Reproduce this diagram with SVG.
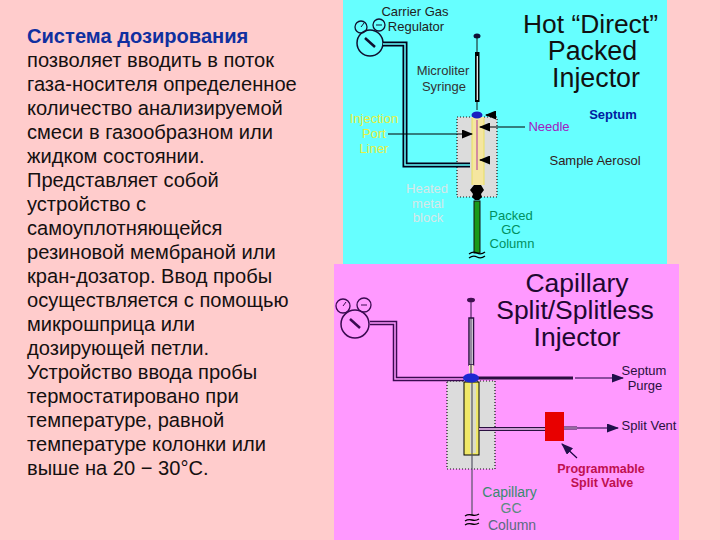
<svg xmlns="http://www.w3.org/2000/svg" width="720" height="540" viewBox="0 0 720 540">
<style>
text{font-family:"Liberation Sans",Arial,sans-serif}
.body{font-size:20.1px;fill:#151010}
.title{font-size:26.800px;fill:#111;text-anchor:middle}
.title2{font-size:26.500px;fill:#200830;text-anchor:middle}
.lab{font-size:13px;text-anchor:middle}
.thin{fill:none;stroke:#000;stroke-width:1.2}
.ln{fill:none;stroke:#180040;stroke-width:1.2}
.dot{fill:#dcdcdc;stroke:#111;stroke-width:1.2;stroke-dasharray:1 2}
</style>
<defs>
<marker id="a" markerWidth="11" markerHeight="9" refX="10" refY="4.500" orient="auto" markerUnits="userSpaceOnUse"><path d="M0 0L11 4.500L0 9Z" fill="#000"/></marker>
<marker id="p" markerWidth="12" markerHeight="9" refX="11" refY="4.500" orient="auto" markerUnits="userSpaceOnUse"><path d="M0 0L12 4.500L0 9Z" fill="#20104a"/></marker>
</defs>
<rect width="720" height="540" fill="#ffcccc"/>
<rect x="343" y="0" width="324" height="264" fill="#66ffff"/>
<rect x="334" y="264" width="345" height="276" fill="#ff99ff"/>

<g id="description">
<text class="body" x="27" y="43" font-weight="bold" style="fill:#1030a0">Система дозирования</text>
<text class="body" x="27" y="67">позволяет вводить в поток</text>
<text class="body" x="27" y="91">газа-носителя определенное</text>
<text class="body" x="27" y="115">количество анализируемой</text>
<text class="body" x="27" y="139">смеси в газообразном или</text>
<text class="body" x="27" y="163">жидком состоянии.</text>
<text class="body" x="27" y="187">Представляет собой</text>
<text class="body" x="27" y="211">устройство с</text>
<text class="body" x="27" y="235">самоуплотняющейся</text>
<text class="body" x="27" y="259">резиновой мембраной или</text>
<text class="body" x="27" y="283">кран-дозатор. Ввод пробы</text>
<text class="body" x="27" y="307">осуществляется с помощью</text>
<text class="body" x="27" y="331">микрошприца или</text>
<text class="body" x="27" y="355">дозирующей петли.</text>
<text class="body" x="27" y="379">Устройство ввода пробы</text>
<text class="body" x="27" y="403">термостатировано при</text>
<text class="body" x="27" y="427">температуре, равной</text>
<text class="body" x="27" y="451">температуре колонки или</text>
<text class="body" x="27" y="475">выше на 20 − 30°С.</text>
</g>

<g id="packed-injector">
<rect class="dot" x="457" y="117" width="40" height="80"/>
<rect x="472" y="117" width="12" height="68" fill="#f5e6a0"/>
<path d="M472 118V185M484 118V185" fill="none" stroke="#e8e060" stroke-width="1"/>
<path d="M474 185h7l3 5-3 4 1 3-3 3h-4l-3-3 1-3-3-4z" fill="#000"/>
<rect x="474" y="201" width="6" height="52" fill="#1a9a1a" stroke="#111" stroke-width="1"/>
<ellipse cx="477" cy="36" rx="3.500" ry="2.500" fill="#10103a"/>
<path d="M477 36V110" stroke="#111" stroke-width="1"/>
<rect x="475" y="52" width="4.500" height="50" fill="#000"/>
<path d="M477.300 56V100" stroke="#fff" stroke-width="1.200"/>
<path d="M477 120V170" stroke="#b030a0" stroke-width="1"/>
<ellipse cx="477" cy="115" rx="5.500" ry="3.500" fill="#1a20c0"/>
<circle cx="370" cy="43" r="13" fill="none" stroke="#101030" stroke-width="1.500"/>
<circle cx="361" cy="27" r="6" fill="none" stroke="#101030" stroke-width="1.300"/>
<circle cx="379" cy="25" r="6" fill="none" stroke="#101030" stroke-width="1.300"/>
<path d="M365 38l10 9" stroke="#101030" stroke-width="2.500"/>
<path d="M361 27l3-4M376 25h6" stroke="#101030" stroke-width="1"/>
<path d="M470 165H405V44H383" fill="none" stroke="#000018" stroke-width="5"/>
<path d="M470 165H405V44H383" fill="none" stroke="#66ffff" stroke-width="1.500"/>
<path d="M469 254q4-3 8-1t8-1M469 258q4-3 8-1t8-1" fill="none" stroke="#000" stroke-width="1.300"/>
</g>

<g id="capillary-injector">
<rect class="dot" x="447" y="381" width="48" height="88"/>
<rect x="464" y="382" width="15" height="73" fill="#f0e868" stroke="#000" stroke-width="1"/>
<rect x="470" y="384" width="6" height="69" fill="#dcdcc8"/>
<path d="M472 382V515" stroke="#556" stroke-width="1.200"/>
<rect x="469" y="318" width="4.500" height="47" fill="#fff" stroke="#2a1040" stroke-width="1.500"/>
<rect x="469" y="365" width="4.500" height="8" fill="#f0e8c0"/>
<path d="M471 300V378" stroke="#2a1040" stroke-width="1"/>
<ellipse cx="471" cy="300" rx="4" ry="2.300" fill="#401050"/>
<path d="M370 323H395V379H464" fill="none" stroke="#3a0a50" stroke-width="4.500"/>
<path d="M370 323H395V379H464" fill="none" stroke="#ff99ff" stroke-width="1.500"/>
<path d="M478 378H573" stroke="#2a1040" stroke-width="3"/>
<ellipse cx="471" cy="378" rx="8" ry="4.500" fill="#1c28d0"/>
<circle cx="355" cy="324" r="14" fill="none" stroke="#3a0a50" stroke-width="1.500"/>
<circle cx="343" cy="306" r="7" fill="none" stroke="#3a0a50" stroke-width="1.300"/>
<circle cx="364" cy="305" r="7" fill="none" stroke="#3a0a50" stroke-width="1.300"/>
<path d="M350 319l10 9" stroke="#3a0a50" stroke-width="2.500"/>
<path d="M343 306l3-4M361 305h6" stroke="#3a0a50" stroke-width="1"/>
<path d="M479 429H545" stroke="#2a1040" stroke-width="4"/>
<path d="M479 429H545" stroke="#ffc8ff" stroke-width="1.500"/>
<path d="M564 428H577" stroke="#2a1040" stroke-width="3"/>
<path d="M564 428H577" stroke="#ffc8ff" stroke-width="1"/>
<rect x="545" y="412" width="19" height="29" fill="#e80000"/>
<path d="M465 516q3-2 7-1t7-1M465 521q3-2 7-1t7-1M465 525q3-2 7-1t7-1" fill="none" stroke="#000" stroke-width="1.300"/>
</g>

<g id="connectors">
<path class="thin" d="M388 134H472" marker-end="url(#a)"/>
<path class="thin" d="M525 127H480" marker-end="url(#a)"/>
<path class="thin" d="M490 160H480" marker-end="url(#a)"/>
<path class="thin" d="M494 115H486" marker-end="url(#a)"/>
<path class="ln" d="M575 378H623" marker-end="url(#p)"/>
<path class="ln" d="M577 428H618" marker-end="url(#p)"/>
<path class="ln" d="M577 458L562 444" marker-end="url(#p)"/>
</g>

<g id="labels-packed">
<text class="lab" x="415" y="16" fill="#222">Carrier Gas</text>
<text class="lab" x="416" y="31" fill="#222">Regulator</text>
<text class="lab" x="443" y="75" fill="#333">Microliter</text>
<text class="lab" x="444" y="91" fill="#333">Syringe</text>
<text class="lab" x="374" y="123" fill="#e8f040">Injection</text>
<text class="lab" x="374" y="138" fill="#e8f040">Port</text>
<text class="lab" x="374" y="153" fill="#e8f040">Liner</text>
<text class="lab" x="427" y="193" fill="#d8e8e8">Heated</text>
<text class="lab" x="428" y="208" fill="#d8e8e8">metal</text>
<text class="lab" x="428" y="222" fill="#d8e8e8">block</text>
<text class="lab" x="511" y="220" fill="#009060">Packed</text>
<text class="lab" x="511" y="234" fill="#009060">GC</text>
<text class="lab" x="512" y="248" fill="#009060">Column</text>
<text class="lab" x="549" y="131" fill="#a020c0">Needle</text>
<text class="lab" x="613" y="119" fill="#0020a0" font-weight="bold">Septum</text>
<text class="lab" x="595" y="165" fill="#332020">Sample Aerosol</text>
<text class="title" x="590.500" y="33" style="font-size:26.400px">Hot “Direct”</text>
<text class="title" x="592.500" y="60">Packed</text>
<text class="title" x="596" y="87">Injector</text>
</g>

<g id="labels-capillary">
<text class="title2" x="577" y="292">Capillary</text>
<text class="title2" x="575" y="319">Split/Splitless</text>
<text class="title2" x="577" y="346">Injector</text>
<text class="lab" x="644" y="375" fill="#2a1040">Septum</text>
<text class="lab" x="645" y="390" fill="#2a1040">Purge</text>
<text class="lab" x="649" y="430" fill="#2a1040">Split Vent</text>
<text class="lab" x="601" y="473" fill="#c01050" font-weight="bold" style="font-size:12.500px">Programmable</text>
<text class="lab" x="602" y="487" fill="#c01050" font-weight="bold" style="font-size:12.500px">Split Valve</text>
<text class="lab" x="509.500" y="497" fill="#3a8a70" style="font-size:14px">Capillary</text>
<text class="lab" x="511" y="513" fill="#5a8a80" style="font-size:14px">GC</text>
<text class="lab" x="512" y="530" fill="#5a6a80" style="font-size:14px">Column</text>
</g>
</svg>
